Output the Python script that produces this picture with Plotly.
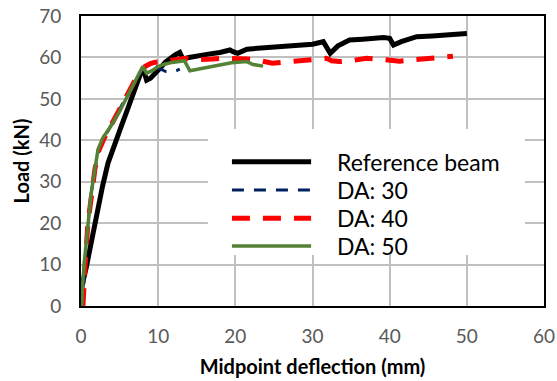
import plotly.graph_objects as go

# ---- data ----
ref_x = [0, 0.15, 0.7, 1.1, 1.6, 2.2, 2.8, 3.5, 4.3, 5.2, 6.1, 7.0, 7.8, 8.1, 8.5, 9.0, 9.6, 10.3, 10.9,
         11.5, 12.2, 12.8, 13.2, 14.0, 15.0, 16.5, 18.0, 19.3, 19.7, 20.3, 21.5, 23.0, 24.5, 26.2, 28.0,
         30.0, 31.4, 32.0, 32.3, 33.3, 34.8, 36.5, 38.0, 39.2, 40.0, 40.5, 41.5, 43.5, 45.5, 47.5, 50.0]
ref_y = [0, 5, 9.5, 13.5, 18, 24, 29, 34.5, 39, 43.3, 47.8, 52, 56.5, 57, 54.5, 55, 56, 57.5, 58.8,
         59.8, 60.6, 61.2, 59.6, 60.0, 60.4, 60.8, 61.2, 61.8, 61.4, 61.0, 62.0, 62.2, 62.6, 62.6, 63.0,
         63.2, 63.8, 61.8, 61.0, 62.8, 64.2, 64.4, 64.6, 64.8, 64.6, 63.0, 63.8, 65.0, 65.2, 65.5, 65.8]

da30_x = [0.25, 0.35, 0.6, 0.9, 1.3, 1.8, 2.3, 3.0, 4.0, 5.0, 6.0, 7.0, 7.8, 8.3, 9.0, 9.6, 10.3, 11.0, 11.8, 12.4, 12.8]
da30_y = [0, 5, 12, 20, 27, 33, 37.5, 40.5, 44, 47.5, 51, 54.5, 56.5, 57.8, 58.3, 58.0, 57.2, 56.6, 56.5, 56.8, 57.2]

da40_x = [0.25, 0.35, 0.6, 0.9, 1.3, 1.8, 2.3, 3.0, 4.0, 5.0, 6.0, 7.0, 7.8, 8.3, 9.0, 9.5, 10.5, 11.6,
          12.5, 13.5, 14.5, 15.5, 17.0, 18.5, 20.0, 21.5, 22.8, 24.0, 24.8, 26.0, 27.5, 29.5, 31.8, 32.5,
          33.5, 35.0, 37.0, 39.0, 41.3, 43.0, 45.0, 47.0, 48.2]
da40_y = [0, 5, 12, 20, 27, 33, 37.5, 40.5, 44, 47.5, 51, 54.5, 56.5, 57.8, 58.5, 58.8, 59.0, 59.2,
          59.6, 59.8, 59.4, 59.6, 59.6, 59.8, 59.8, 59.6, 59.4, 58.8, 58.6, 58.8, 59.1, 59.5, 59.8, 59.2,
          59.0, 59.2, 59.8, 59.5, 59.1, 59.4, 59.8, 60.1, 60.3]

da50_x = [0.1, 0.2, 0.5, 0.9, 1.3, 1.8, 2.2, 2.8, 3.9, 5.0, 6.0, 7.0, 8.0, 8.5, 9.2, 10.0, 10.7, 11.8,
          13.0, 13.4, 14.1, 15.0, 16.5, 18.0, 19.5, 21.5, 22.3, 23.6]
da50_y = [0, 5, 12, 20, 27, 33, 37.7, 40.5, 43.5, 47, 50.5, 54, 57.8, 56.2, 56.8, 57.8, 58.3, 58.8,
          59.2, 59.2, 56.8, 57.1, 57.6, 58.2, 58.7, 59.0, 58.3, 57.9]

series_names = ["Reference beam", "DA: 30", "DA: 40", "DA: 50"]
x_ticks = [0, 10, 20, 30, 40, 50, 60]
y_ticks = [0, 10, 20, 30, 40, 50, 60, 70]

# ---- styles ----
styles = [
    dict(color="#000000", width=5, dash="solid"),
    dict(color="#002060", width=3, dash="12px,10px"),
    dict(color="#ff0000", width=5, dash="18px,13px"),
    dict(color="#548235", width=3.5, dash="solid"),
]
FONT = "Lato"

fig = go.Figure()
for (xs, ys), name, st in zip([(ref_x, ref_y), (da30_x, da30_y), (da40_x, da40_y), (da50_x, da50_y)],
                              series_names, styles):
    fig.add_trace(go.Scatter(x=xs, y=ys, mode="lines", name=name, line=st, showlegend=False))

# ---- manual legend (long sample lines like the original) ----
fig.add_shape(type="rect", xref="paper", yref="paper", x0=0.274, x1=0.959, y0=0.176, y1=0.610,
              fillcolor="white", line=dict(width=0), layer="above")
rows = [0.497, 0.400, 0.303, 0.207]
for name, st, yy in zip(series_names, styles, rows):
    fig.add_shape(type="line", xref="paper", yref="paper", x0=0.326, x1=0.497, y0=yy, y1=yy,
                  line=dict(color=st["color"], width=st["width"], dash=st["dash"]), layer="above")
    fig.add_annotation(xref="paper", yref="paper", x=0.549, y=yy, text=name, showarrow=False,
                       xanchor="left", yanchor="middle", font=dict(family=FONT, size=23, color="#000000"))

axis_common = dict(
    showgrid=True, gridcolor="#c0c0c0", gridwidth=1.5,
    showline=True, linecolor="#000000", linewidth=2, mirror=True,
    zeroline=False, ticks="", automargin=False,
    tickfont=dict(family=FONT, size=19, color="#595959"),
)
fig.update_xaxes(range=[0, 60], tickvals=x_ticks, ticklabelstandoff=12,
                 title=dict(text="<b>Midpoint deflection (mm)</b>", standoff=14,
                            font=dict(family=FONT, size=20, color="#000000")),
                 **axis_common)
fig.update_yaxes(range=[0, 70], tickvals=y_ticks, ticklabelstandoff=14,
                 title=dict(text="<b>Load (kN)</b>", standoff=4,
                            font=dict(family=FONT, size=20, color="#000000")),
                 **axis_common)

fig.update_layout(
    width=557, height=381,
    margin=dict(l=81, r=13, t=16, b=75),
    paper_bgcolor="white", plot_bgcolor="white",
    showlegend=False,
)
fig.write_html("out.html")
